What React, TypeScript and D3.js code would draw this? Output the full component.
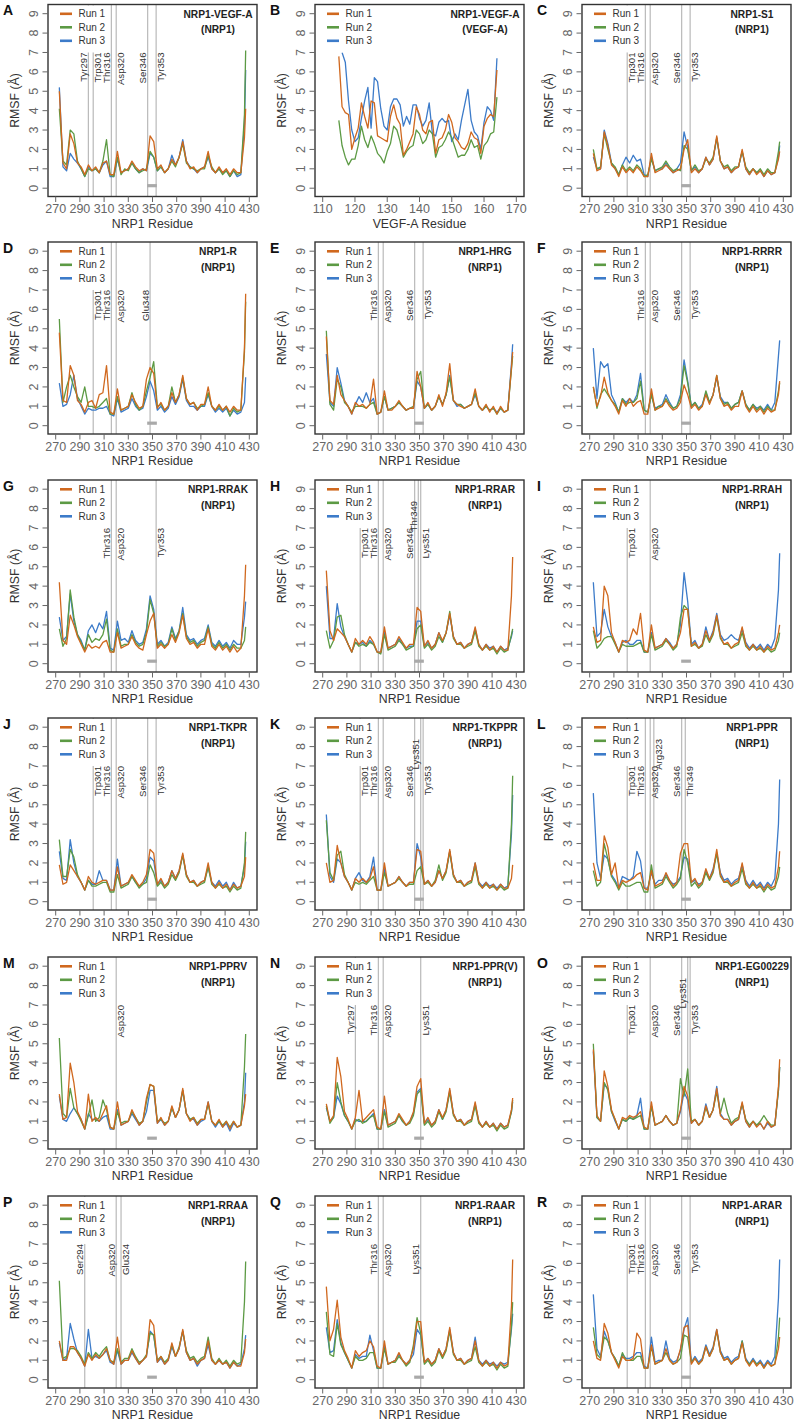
import React from "react";
import * as d3 from "d3";

// ---------- categories / ticks ----------
const NRP1_RESIDUES = [273,276,279,282,285,288,291,294,297,300,303,306,309,312,315,318,321,324,327,330,333,336,339,342,345,348,351,354,357,360,363,366,369,372,375,378,381,384,387,390,393,396,399,402,405,408,411,414,417,420,423,426,427];
const VEGF_RESIDUES = [115,116,117,118,119,120,121,122,123,124,125,126,127,128,129,130,131,132,133,134,135,136,137,138,139,140,141,142,143,144,145,146,147,148,149,150,151,152,153,154,155,156,157,158,159,160,161,162,163,164];
const NRP1_TICKS = [270,290,310,330,350,370,390,410,430];
const VEGF_TICKS = [110,120,130,140,150,160,170];
const Y_TICKS = [0,1,2,3,4,5,6,7,8,9];
const RUN_LABELS = ["Run 1","Run 2","Run 3"];
const PANEL_LETTERS = ["A","B","C","D","E","F","G","H","I","J","K","L","M","N","O","P","Q","R"];
const PANEL_TITLES = ["NRP1-VEGF-A","NRP1-VEGF-A","NRP1-S1","NRP1-R","NRP1-HRG","NRP1-RRRR","NRP1-RRAK","NRP1-RRAR","NRP1-RRAH","NRP1-TKPR","NRP1-TKPPR","NRP1-PPR","NRP1-PPRV","NRP1-PPR(V)","NRP1-EG00229","NRP1-RRAA","NRP1-RAAR","NRP1-ARAR"];
const PANEL_SUBTITLES = ["(NRP1)","(VEGF-A)","(NRP1)","(NRP1)","(NRP1)","(NRP1)","(NRP1)","(NRP1)","(NRP1)","(NRP1)","(NRP1)","(NRP1)","(NRP1)","(NRP1)","(NRP1)","(NRP1)","(NRP1)","(NRP1)"];

// ---------- residue markers (label, side of the line, raised) ----------
const MARKERS = [
  [["Tyr297","L"],["Trp301","R"],["Thr316","L"],["Asp320","R"],["Ser346","L"],["Tyr353","R"]],
  [],
  [["Trp301","R"],["Thr316","L"],["Asp320","R"],["Ser346","L"],["Tyr353","R"]],
  [["Trp301","R"],["Thr316","L"],["Asp320","R"],["Glu348","L"]],
  [["Thr316","L"],["Asp320","R"],["Ser346","L"],["Tyr353","R"]],
  [["Thr316","L"],["Asp320","R"],["Ser346","L"],["Tyr353","R"]],
  [["Thr316","L"],["Asp320","R"],["Tyr353","R"]],
  [["Trp301","R"],["Thr316","L"],["Asp320","R"],["Ser346","L"],["Thr349","L","up"],["Lys351","R"]],
  [["Trp301","R"],["Asp320","R"]],
  [["Trp301","R"],["Thr316","L"],["Asp320","R"],["Ser346","L"],["Tyr353","R"]],
  [["Trp301","R"],["Thr316","L"],["Asp320","R"],["Ser346","L"],["Lys351","L","up"],["Tyr353","R"]],
  [["Trp301","R"],["Thr316","L"],["Asp320","R"],["Arg323","R","up"],["Ser346","L"],["Thr349","R"]],
  [["Asp320","R"]],
  [["Tyr297","L"],["Thr316","L"],["Asp320","R"],["Lys351","R"]],
  [["Trp301","R"],["Asp320","R"],["Ser346","L"],["Lys351","L","up"],["Tyr353","R"]],
  [["Ser294","L"],["Asp320","L"],["Glu324","R"]],
  [["Thr316","L"],["Asp320","R"],["Lys351","L"]],
  [["Trp301","R"],["Thr316","L"],["Asp320","R"],["Ser346","L"],["Tyr353","R"]],
];

// ---------- RMSF values (Å) ----------
const A_RUN1 = [5.0,1.3,1.0,2.8,2.3,1.3,1.1,0.7,1.2,0.9, 1.1,0.8,1.3,1.4,0.7,0.7,1.9,0.8,0.9,1.0, 1.4,1.1,0.9,1.0,0.9,2.7,2.4,1.0,1.2,0.8, 1.0,1.5,1.2,1.6,2.4,1.4,1.0,1.1,0.8,1.0, 1.1,1.9,1.0,0.8,1.1,0.8,1.0,0.7,1.0,0.8, 0.8,2.6,4.1];
const A_RUN2 = [4.1,1.4,1.2,3.0,2.8,1.4,1.0,0.6,1.0,0.9, 1.0,0.8,1.4,2.5,0.7,0.6,1.6,0.7,1.0,0.9, 1.3,1.0,0.8,0.9,1.0,1.9,1.6,0.9,1.1,0.8, 1.0,1.4,1.1,1.6,2.3,1.3,1.1,1.0,0.9,1.0, 1.0,1.7,1.1,0.8,1.0,0.7,0.9,0.6,0.9,0.7, 0.8,3.8,7.1];
const A_RUN3 = [5.2,1.1,0.9,1.8,1.5,1.3,1.0,0.6,1.1,0.9, 1.0,0.8,1.2,1.4,0.6,0.6,1.5,0.8,0.9,1.0, 1.3,1.0,0.8,1.0,0.9,1.8,1.6,0.9,1.1,0.8, 1.0,1.7,1.2,1.6,2.5,1.4,1.1,1.0,0.8,1.0, 1.1,1.6,1.0,0.8,1.0,0.8,0.9,0.6,0.9,0.6, 0.7,3.3,6.1];

const B_RUN1 = [6.8,4.2,3.9,3.8,2.0,2.6,3.1,4.4,3.7,3.1, 4.5,4.4,2.7,2.6,2.5,2.4,3.7,4.3,3.6,3.3, 1.7,2.0,2.4,2.8,4.2,3.8,3.0,2.8,3.4,3.5, 1.8,2.5,2.6,3.0,3.8,3.4,2.6,2.4,2.1,2.0, 2.3,2.9,2.6,2.5,1.8,3.2,3.6,3.8,3.7,6.1];
const B_RUN2 = [3.5,2.2,1.6,1.2,1.5,1.5,2.2,3.2,2.5,2.1, 2.7,2.3,1.8,1.6,1.3,1.9,2.3,3.2,3.0,2.4, 1.6,1.9,2.1,2.2,3.0,2.8,2.3,2.5,3.0,2.8, 1.6,2.1,2.2,2.5,2.9,2.6,2.1,1.6,1.7,1.7, 2.0,2.5,2.1,2.2,1.5,2.2,2.4,2.8,2.9,4.7];
const B_RUN3 = [null,7.0,6.5,4.5,3.0,2.4,2.6,3.6,4.5,5.2, 3.1,5.7,5.5,4.1,3.2,3.0,4.2,4.6,4.6,4.3, 3.2,3.7,3.3,4.3,4.3,3.6,3.2,3.5,4.4,2.8, 2.7,3.4,3.6,3.4,3.5,2.4,2.8,2.5,3.5,4.3, 5.1,3.5,2.9,2.7,2.0,3.4,4.2,4.0,3.5,6.7];

const C_RUN1 = [1.8,0.9,1.0,2.9,2.2,1.2,1.0,0.6,1.1,0.8, 1.0,0.8,1.1,0.9,0.6,0.6,1.8,0.8,0.9,1.0, 1.2,1.0,0.8,0.9,1.0,2.0,2.5,0.8,1.0,0.8, 1.0,1.6,1.2,1.5,2.7,1.4,1.0,1.1,0.8,1.0, 1.1,2.0,1.0,0.7,1.0,0.7,0.9,0.6,0.9,0.7, 0.8,1.5,1.9];
const C_RUN2 = [2.0,1.0,1.1,2.8,2.0,1.3,1.1,0.7,1.2,0.9, 1.1,0.9,1.2,1.0,0.6,0.7,1.5,0.9,1.0,1.1, 1.4,1.1,0.9,1.0,0.9,2.2,2.0,0.9,1.2,0.9, 1.0,1.5,1.3,1.6,2.6,1.4,1.1,1.2,0.9,1.1, 1.1,1.9,1.1,0.8,1.0,0.8,1.0,0.7,1.0,0.8, 0.8,1.9,2.4];
const C_RUN3 = [1.6,1.0,1.0,3.0,2.3,1.3,1.0,0.7,1.2,1.6, 1.3,1.7,1.4,1.5,0.7,0.6,1.6,0.9,1.0,1.0, 1.3,1.0,0.8,1.0,1.3,2.9,2.1,0.9,1.1,0.8, 1.0,1.6,1.2,1.5,2.6,1.4,1.0,1.1,0.8,1.0, 1.1,1.9,1.0,0.7,1.0,0.8,0.9,0.6,0.9,0.7, 0.8,1.6,2.2];

const D_RUN1 = [4.8,1.3,1.2,3.1,2.6,1.3,1.1,0.7,1.2,1.3, 0.9,1.6,1.7,3.1,0.7,0.6,1.9,0.8,0.9,1.0, 1.6,1.2,0.9,1.0,2.4,3.0,2.7,0.9,1.2,0.8, 1.0,1.7,1.2,1.6,2.6,1.4,1.1,1.2,0.8,1.1, 1.1,2.0,1.0,0.8,1.1,0.8,1.0,0.7,1.0,0.8, 0.8,4.0,6.8];
const D_RUN2 = [5.5,1.2,2.0,2.6,2.0,1.5,1.2,2.0,1.0,1.0, 0.9,1.0,1.2,1.4,0.6,0.6,1.5,0.8,0.9,1.0, 1.7,1.1,0.8,1.0,1.8,2.5,3.3,1.0,1.1,0.8, 1.0,2.0,1.2,1.6,2.5,1.4,1.1,1.2,0.9,1.0, 1.1,1.7,1.0,0.8,1.0,0.8,1.0,0.5,0.9,0.7, 0.8,3.8,6.4];
const D_RUN3 = [2.2,1.0,1.1,1.6,2.6,1.4,1.0,0.6,0.9,0.8, 0.8,0.9,0.9,1.0,0.6,0.5,1.4,0.7,0.8,0.9, 1.4,1.0,0.8,0.9,1.5,2.3,1.8,0.8,1.0,0.7, 0.9,1.5,1.1,1.5,2.4,1.3,1.0,1.0,0.8,1.0, 1.0,1.6,1.0,0.7,0.9,0.7,0.9,0.5,0.8,0.6, 0.7,1.2,2.5];

const E_RUN1 = [4.6,1.3,1.1,2.6,1.6,1.3,1.0,0.6,1.2,1.0, 1.1,0.9,1.1,2.4,0.6,0.7,1.8,0.8,0.8,1.0, 1.3,1.0,0.8,0.9,0.9,2.8,2.0,0.9,1.2,0.8, 1.0,1.6,1.0,1.7,3.2,1.3,1.1,1.0,0.9,1.0, 1.1,1.9,1.0,0.8,1.1,0.7,1.0,0.6,1.0,0.7, 0.8,3.0,3.8];
const E_RUN2 = [4.9,1.1,0.8,2.4,2.0,1.2,1.0,0.7,1.0,1.0, 1.0,0.9,1.1,1.2,0.6,0.7,1.5,0.8,0.9,1.0, 1.2,1.0,0.8,0.9,1.0,2.4,2.8,0.9,1.1,0.8, 1.0,1.5,1.1,1.6,2.5,1.3,1.1,1.1,0.9,1.0, 1.1,1.7,1.0,0.8,1.0,0.8,0.9,0.6,0.9,0.7, 0.8,2.9,3.6];
const E_RUN3 = [3.7,1.2,1.0,3.0,2.2,1.3,1.0,0.6,1.1,1.5, 1.2,1.7,1.2,1.4,0.6,0.7,1.5,0.8,0.9,1.0, 1.2,1.0,0.8,0.9,0.9,2.3,2.0,0.9,1.1,0.8, 1.0,1.5,1.1,1.6,2.6,1.3,1.0,1.1,0.9,1.0, 1.1,1.6,1.0,0.8,1.0,0.8,0.9,0.7,0.9,0.7, 0.8,3.2,4.2];

const F_RUN1 = [2.0,1.0,1.5,2.5,1.7,1.3,1.0,0.6,1.3,1.0, 1.4,1.0,1.2,1.3,0.6,0.6,1.9,0.8,0.9,1.0, 1.3,1.0,0.8,0.9,1.2,2.1,1.6,0.9,1.1,0.8, 1.0,1.6,1.1,1.6,2.6,1.4,1.0,1.1,0.8,1.0, 1.0,1.8,1.0,0.7,1.0,0.7,0.9,0.6,0.9,0.7, 0.8,1.6,2.3];
const F_RUN2 = [2.0,0.9,1.6,1.9,1.6,1.3,1.1,0.7,1.4,1.1, 1.2,1.2,1.4,2.3,0.8,0.7,1.6,0.8,1.0,1.0, 1.4,1.1,0.9,1.0,1.4,3.1,2.2,1.0,1.2,0.9, 1.0,1.8,1.2,1.6,2.6,1.4,1.1,1.2,0.9,1.1, 1.2,1.8,1.1,0.8,1.1,0.8,1.0,0.7,1.0,0.8, 0.8,1.8,2.2];
const F_RUN3 = [4.0,1.4,3.3,3.0,3.2,1.6,1.2,0.7,1.4,1.2, 1.4,1.2,1.6,2.7,0.8,0.7,1.6,0.9,1.0,1.1, 1.6,1.2,0.9,1.0,1.6,3.4,2.3,1.0,1.2,0.9, 1.1,1.7,1.2,1.6,2.5,1.5,1.2,1.2,0.9,1.1, 1.2,1.8,1.1,0.8,1.1,0.9,1.0,0.8,1.1,0.8, 1.2,3.6,4.4];

const G_RUN1 = [4.2,1.2,1.0,2.5,2.0,1.4,1.0,0.6,1.0,0.8, 0.9,0.8,1.1,1.2,0.6,0.6,1.6,0.8,0.9,1.0, 1.4,1.0,0.8,0.7,1.5,2.2,2.6,0.8,1.0,0.8, 1.0,1.5,1.1,1.6,2.5,1.3,1.0,1.1,0.8,1.0, 1.0,1.8,0.9,0.7,1.0,0.7,0.9,0.6,0.9,0.6, 0.8,3.5,5.1];
const G_RUN2 = [1.8,0.9,1.3,3.8,2.4,1.5,1.1,0.7,1.5,1.1, 1.3,1.2,1.5,2.3,0.7,0.6,1.8,0.9,1.0,1.0, 1.5,1.1,0.9,1.0,1.6,3.3,2.6,0.9,1.1,0.9, 1.0,1.8,1.2,1.7,2.6,1.4,1.1,1.2,0.9,1.1, 1.2,1.9,1.0,0.8,1.1,0.8,1.0,0.7,1.0,0.8, 0.8,1.2,1.9];
const G_RUN3 = [2.4,1.2,1.4,3.6,2.2,1.5,1.2,0.7,1.7,2.0, 1.6,2.1,1.8,2.7,0.8,0.7,2.2,1.2,1.3,1.1, 1.7,1.2,1.0,1.1,1.8,3.5,2.8,1.0,1.2,0.9, 1.1,1.9,1.3,1.7,2.9,1.5,1.2,1.3,1.0,1.2, 1.3,2.0,1.1,0.9,1.2,0.9,1.1,0.8,1.2,1.0, 1.0,2.4,3.2];

const H_RUN1 = [4.8,1.7,1.2,1.8,1.6,1.4,1.0,0.6,1.3,1.0, 1.2,1.0,1.4,1.1,0.6,0.6,1.9,0.8,0.9,1.0, 1.4,1.1,0.8,1.0,1.0,2.9,2.7,0.9,1.2,0.8, 1.0,1.6,1.2,1.6,2.6,1.4,1.0,1.1,0.8,1.0, 1.1,1.9,1.0,0.7,1.0,0.7,0.9,0.6,0.9,0.7, 0.7,3.5,5.5];
const H_RUN2 = [1.7,0.8,1.2,2.4,2.5,1.5,1.0,0.6,1.1,0.9, 1.0,0.9,1.1,1.0,0.6,0.5,1.5,0.7,0.8,0.9, 1.2,1.0,0.7,0.8,0.9,1.8,2.0,0.8,1.0,0.7, 0.9,1.4,1.1,1.6,2.7,1.3,1.0,1.0,0.8,0.9, 1.0,1.7,0.9,0.7,0.9,0.7,0.8,0.5,0.8,0.6, 0.7,1.5,1.8];
const H_RUN3 = [4.0,1.3,1.3,3.1,1.9,1.4,1.0,0.6,1.1,1.0, 1.1,0.9,1.2,1.0,0.6,0.6,1.6,0.8,0.9,1.0, 1.3,1.0,0.8,0.9,0.9,2.2,2.2,0.9,1.1,0.8, 1.0,1.6,1.1,1.6,2.5,1.4,1.0,1.1,0.8,1.0, 1.1,1.8,1.0,0.7,1.0,0.8,0.9,0.6,0.9,0.7, 0.8,1.4,1.7];

const I_RUN1 = [1.9,1.1,1.2,4.0,3.5,1.6,1.1,0.6,1.2,1.1, 1.2,1.8,1.5,2.6,0.7,0.6,2.0,0.8,0.9,1.0, 1.3,1.0,0.8,1.0,1.6,2.8,2.8,0.9,1.1,0.8, 1.0,1.7,1.2,1.6,2.5,1.4,1.0,1.1,0.8,1.0, 1.1,1.9,1.0,0.7,1.0,0.7,0.9,0.6,0.9,0.7, 0.8,1.6,2.0];
const I_RUN2 = [1.7,0.8,1.0,1.3,1.4,1.4,1.0,0.6,1.0,0.9, 0.9,0.9,1.0,1.1,0.6,0.6,1.5,0.7,0.8,0.9, 1.2,1.0,0.7,0.9,2.4,3.0,2.8,0.9,1.0,0.8, 0.9,1.5,1.1,1.5,2.4,1.3,1.0,1.0,0.8,0.9, 1.0,1.6,0.9,0.7,0.9,0.7,0.8,0.6,0.8,0.6, 0.7,1.2,1.6];
const I_RUN3 = [4.2,1.4,1.6,2.8,1.9,1.4,1.1,0.6,1.1,1.2, 1.0,1.0,1.2,1.2,0.6,0.6,1.6,0.8,0.9,1.0, 1.3,1.1,0.8,1.0,2.0,4.7,3.2,1.0,1.2,0.8, 1.0,1.9,1.2,1.7,2.6,1.5,1.2,1.3,1.5,1.3, 1.2,1.8,1.1,0.8,1.0,0.8,1.0,0.7,1.0,0.8, 1.3,3.8,5.7];

const J_RUN1 = [1.9,0.9,1.0,1.9,1.6,1.3,1.0,0.6,1.3,1.0, 0.9,1.0,1.1,1.1,0.6,0.6,1.8,0.8,0.9,1.0, 1.4,1.1,0.8,1.0,1.4,2.7,2.5,0.9,1.2,0.8, 1.0,1.6,1.2,1.6,2.5,1.4,1.0,1.1,0.8,1.0, 1.1,2.0,1.0,0.7,1.0,0.7,0.9,0.6,0.9,0.7, 0.8,1.3,2.3];
const J_RUN2 = [3.2,1.3,1.3,2.7,2.3,1.4,1.0,0.6,1.1,0.8, 0.8,0.9,1.0,1.0,0.5,0.5,1.4,0.7,0.8,0.9, 1.3,1.0,0.7,0.9,1.0,1.9,1.5,0.8,1.0,0.7, 0.9,1.4,1.1,1.5,2.4,1.3,1.0,1.0,0.8,0.9, 1.0,1.8,0.9,0.7,0.9,0.7,0.8,0.5,0.8,0.6, 0.7,2.0,3.6];
const J_RUN3 = [2.6,1.2,1.1,3.2,2.0,1.3,1.0,0.6,1.1,0.9, 0.9,1.6,1.1,1.1,0.6,0.6,2.2,0.8,0.9,1.0, 1.3,1.0,0.8,0.9,1.2,2.3,2.1,0.9,1.1,0.8, 1.0,1.6,1.2,1.6,2.4,1.4,1.0,1.1,0.8,1.0, 1.1,1.8,1.0,0.8,1.1,0.8,1.0,0.6,1.0,0.7, 0.8,1.8,3.1];

const K_RUN1 = [2.0,1.0,1.1,2.9,2.0,1.3,1.0,0.6,1.2,1.0, 1.2,1.0,1.2,1.8,0.6,0.6,2.0,0.8,0.9,1.0, 1.3,1.0,0.8,1.0,1.0,2.7,2.6,0.9,1.1,0.8, 1.0,1.6,1.2,1.6,2.7,1.4,1.0,1.1,0.8,1.0, 1.1,2.0,1.0,0.7,1.0,0.7,0.9,0.6,0.9,0.7, 0.7,1.2,1.9];
const K_RUN2 = [4.2,1.5,1.1,2.4,2.6,1.4,1.0,0.6,1.0,0.9, 1.0,0.9,1.1,1.3,0.6,0.6,1.5,0.8,0.9,1.0, 1.2,1.0,0.8,0.9,0.9,1.6,1.8,0.9,1.0,0.8, 1.1,1.9,1.1,1.5,2.6,1.3,1.0,1.0,0.8,0.9, 1.0,1.8,0.9,0.7,0.9,0.7,0.8,0.6,0.8,0.6, 0.7,4.0,6.5];
const K_RUN3 = [4.5,1.3,1.0,2.2,2.0,1.3,1.0,0.6,1.2,1.5, 1.1,1.0,1.3,2.3,0.6,0.6,1.7,0.8,0.9,1.0, 1.3,1.0,0.8,1.0,1.0,3.0,2.3,0.9,1.1,0.8, 1.0,1.6,1.2,1.6,2.6,1.4,1.0,1.1,0.8,1.0, 1.1,2.0,1.0,0.8,1.0,0.8,0.9,0.7,0.9,0.7, 0.8,3.5,5.5];

const L_RUN1 = [2.0,1.1,1.1,3.4,2.8,1.4,2.0,0.7,1.1,1.0, 1.1,1.2,1.4,1.5,0.7,0.6,1.6,0.8,0.9,1.0, 1.5,1.1,0.8,1.0,2.5,3.0,3.0,1.0,1.2,0.8, 1.0,1.7,1.2,1.6,2.7,1.4,1.0,1.1,0.8,1.0, 1.1,2.0,1.0,0.7,1.0,0.7,0.9,0.6,0.9,0.7, 0.8,1.8,2.6];
const L_RUN2 = [1.6,0.8,1.0,3.0,2.2,1.3,1.0,0.6,1.0,0.8, 0.8,0.9,1.0,1.0,0.5,0.5,1.9,0.7,0.8,0.9, 1.3,1.0,0.7,0.9,1.2,2.7,2.0,0.8,1.0,0.7, 0.9,1.5,1.1,1.5,2.5,1.3,1.0,1.0,0.8,0.9, 1.0,1.7,0.9,0.7,0.9,0.7,0.8,0.5,0.8,0.6, 0.7,1.3,1.8];
const L_RUN3 = [5.6,2.0,1.2,2.4,2.2,1.4,1.1,0.7,1.3,1.2, 1.1,1.3,2.6,2.1,0.7,0.7,1.5,0.9,1.1,1.1, 1.4,1.1,0.9,1.0,1.3,2.3,2.2,1.0,1.1,0.9, 1.0,1.6,1.2,1.7,2.5,1.5,1.1,1.2,0.9,1.1, 1.2,1.9,1.1,0.8,1.1,0.8,1.0,0.7,1.0,0.8, 1.2,4.0,6.3];

const M_RUN1 = [2.4,1.1,1.2,4.0,3.0,1.5,1.1,0.6,2.4,1.0, 1.2,1.0,1.4,1.8,0.7,0.6,2.0,0.8,0.9,1.0, 1.6,1.2,0.8,1.0,2.2,2.9,2.8,0.9,1.2,0.8, 1.0,1.8,1.2,1.6,2.7,1.4,1.0,1.2,0.8,1.1, 1.1,2.0,1.0,0.8,1.1,0.7,1.0,0.6,1.0,0.7, 0.8,1.8,2.4];
const M_RUN2 = [5.3,1.4,1.2,2.7,1.7,1.4,1.0,0.6,1.3,2.1, 1.0,1.2,2.1,1.6,0.7,0.6,1.5,0.9,1.0,1.0, 1.5,1.2,0.9,1.0,2.0,2.9,2.8,1.0,1.1,0.9, 1.0,1.7,1.2,1.6,2.6,1.4,1.1,1.2,0.9,1.1, 1.1,1.9,1.0,0.8,1.0,0.8,1.0,0.7,1.0,0.7, 0.8,3.8,5.5];
const M_RUN3 = [2.3,1.1,1.0,1.4,1.7,1.4,1.1,0.6,1.4,1.1, 1.1,1.0,1.2,1.3,0.6,0.6,1.6,0.8,0.9,1.0, 1.4,1.1,0.8,1.0,1.5,2.6,2.6,0.9,1.1,0.8, 1.0,1.7,1.2,1.6,2.6,1.4,1.1,1.1,0.8,1.0, 1.1,2.0,1.0,0.7,1.0,0.7,0.9,0.5,0.9,0.7, 0.8,2.0,3.5];

const N_RUN1 = [1.9,1.0,1.3,4.3,3.3,1.5,1.1,0.6,1.2,2.6, 1.0,1.2,1.4,1.6,0.7,0.6,2.3,0.8,0.9,1.0, 1.4,1.1,0.8,1.0,1.5,2.8,3.2,0.9,1.2,0.8, 1.0,1.6,1.2,1.6,2.7,1.4,1.0,1.1,0.8,1.0, 1.1,2.0,1.0,0.7,1.0,0.7,0.9,0.6,0.9,0.7, 0.8,1.6,2.2];
const N_RUN2 = [1.8,0.9,1.2,3.0,2.0,1.3,1.0,0.6,1.0,1.1, 0.9,1.0,1.2,1.3,0.6,0.6,1.5,0.7,0.8,0.9, 1.3,1.0,0.8,0.9,1.3,2.4,2.6,0.8,1.0,0.7, 0.9,1.5,1.1,1.5,2.5,1.3,1.0,1.0,0.8,0.9, 1.0,1.8,0.9,0.7,0.9,0.7,0.8,0.5,0.8,0.6, 0.7,1.5,2.1];
const N_RUN3 = [1.7,1.0,1.2,2.3,1.9,1.3,1.0,0.6,1.1,1.0, 1.0,1.0,1.2,1.4,0.6,0.6,1.6,0.8,0.9,1.0, 1.3,1.0,0.8,1.0,1.4,2.5,2.7,0.9,1.1,0.8, 1.0,1.6,1.1,1.6,2.6,1.4,1.0,1.1,0.8,1.0, 1.1,1.9,1.0,0.7,1.0,0.7,0.9,0.6,0.9,0.7, 0.8,1.5,2.0];

const O_RUN1 = [4.7,1.3,1.0,3.6,2.8,1.6,1.1,0.6,1.2,1.1, 1.3,1.2,1.3,1.5,0.7,0.6,2.0,0.8,0.9,1.0, 1.3,1.0,0.8,0.9,1.6,2.8,2.3,0.9,1.1,0.8, 1.0,1.8,1.2,1.6,2.7,1.3,1.1,1.1,0.8,1.0, 1.1,2.0,1.0,0.7,1.0,0.7,0.9,0.6,1.0,0.7, 0.8,2.8,4.2];
const O_RUN2 = [5.0,1.2,1.0,3.0,2.6,1.5,1.1,0.6,1.1,1.0, 1.2,1.1,1.2,1.3,0.6,0.6,1.8,0.8,0.9,1.0, 1.3,1.0,0.8,0.9,3.2,2.3,3.7,1.0,1.1,0.8, 1.0,1.7,1.2,1.6,2.5,1.4,2.2,1.4,0.9,1.1, 1.2,1.9,1.1,0.8,1.0,0.8,1.0,1.3,1.0,0.8, 0.8,2.6,3.8];
const O_RUN3 = [4.6,1.2,1.0,2.9,2.7,1.5,1.0,0.6,1.1,1.0, 1.2,1.1,1.3,2.2,0.6,0.6,1.8,0.8,0.9,1.0, 1.3,1.0,0.8,0.9,1.5,2.5,2.1,0.9,1.1,0.8, 1.0,1.9,1.2,1.6,2.8,1.4,1.1,1.1,0.8,1.0, 1.1,1.9,1.0,0.7,1.0,0.8,0.9,0.6,0.9,0.7, 0.8,2.6,3.8];

const P_RUN1 = [2.0,1.0,1.0,1.7,1.7,1.4,1.1,0.7,1.3,1.0, 1.3,1.1,1.3,1.6,1.0,0.8,2.2,0.8,1.0,1.0, 1.5,1.1,0.8,1.0,1.2,3.1,2.8,0.9,1.2,0.8, 1.0,1.9,1.2,1.6,2.6,1.4,1.0,1.1,0.8,1.0, 1.1,2.0,1.0,0.8,1.0,0.8,0.9,0.6,0.9,0.7, 0.7,1.4,2.1];
const P_RUN2 = [5.1,1.1,1.2,1.6,1.6,1.5,1.2,0.8,1.4,1.1, 1.4,1.2,1.5,1.7,1.0,0.9,1.6,0.9,1.1,1.1, 1.6,1.2,0.9,1.0,1.3,2.4,2.3,1.0,1.2,0.9, 1.1,1.8,1.2,1.7,2.5,1.5,1.1,1.2,0.9,1.1, 1.2,2.2,1.1,0.8,1.1,0.8,1.0,0.7,1.0,0.8, 0.9,4.0,6.1];
const P_RUN3 = [1.9,1.0,1.1,2.9,2.1,1.4,1.1,0.7,2.6,1.1, 1.2,1.1,1.3,1.5,0.9,0.8,1.5,0.8,1.0,1.0, 1.4,1.1,0.8,1.0,1.2,2.5,2.3,0.9,1.1,0.8, 1.0,1.7,1.2,1.6,2.5,1.4,1.0,1.1,0.7,1.0, 1.1,1.8,1.0,0.8,1.0,0.8,0.9,0.6,0.9,0.7, 0.8,1.6,2.3];

const Q_RUN1 = [4.8,2.0,2.6,4.1,2.2,1.5,1.1,0.6,1.5,1.2, 1.4,1.5,2.0,1.7,0.7,0.6,2.0,0.8,0.9,1.0, 1.4,1.0,0.8,1.0,1.6,3.0,3.0,0.9,1.1,0.8, 1.0,1.6,1.2,1.6,2.7,1.4,1.0,1.1,0.8,1.0, 1.1,2.0,1.0,0.7,1.0,0.7,0.9,0.6,0.9,0.7, 0.8,3.8,6.2];
const Q_RUN2 = [3.5,1.3,1.2,2.9,1.8,1.4,1.0,0.6,1.2,1.0, 1.0,1.1,1.4,1.4,0.6,0.6,1.6,0.8,0.9,0.9, 1.2,1.0,0.7,0.9,1.8,3.2,2.4,0.8,1.0,0.7, 0.9,1.5,1.1,1.5,2.5,1.3,1.0,1.0,0.8,0.9, 1.0,1.7,0.9,0.7,0.9,0.7,0.8,0.5,0.8,0.6, 0.7,2.8,4.0];
const Q_RUN3 = [2.7,1.4,1.5,3.1,1.9,1.4,1.0,0.6,1.3,1.1, 1.2,1.2,2.3,1.5,0.6,0.6,1.7,0.8,0.9,1.0, 1.3,1.0,0.8,1.0,1.3,2.6,2.3,0.9,1.1,0.8, 1.0,1.6,1.2,1.6,2.6,1.4,1.0,1.1,0.8,1.0, 1.1,2.2,1.0,0.8,1.0,0.8,0.9,0.7,0.9,0.8, 0.9,2.6,3.4];

const R_RUN1 = [2.0,1.1,1.0,2.9,2.4,1.4,1.0,0.6,1.2,1.0, 1.0,1.1,2.4,2.1,0.6,0.6,1.8,0.8,0.9,1.0, 1.6,1.0,0.8,0.9,1.6,2.7,2.8,0.8,1.1,0.8, 1.0,1.7,1.2,1.6,2.6,1.4,1.0,1.1,0.8,1.0, 1.1,1.9,1.0,0.7,1.0,0.7,0.9,0.6,0.9,0.7, 0.8,1.6,2.2];
const R_RUN2 = [2.7,1.3,1.1,2.2,2.0,1.4,1.1,0.7,1.4,1.0, 1.0,1.0,1.2,1.2,0.6,0.6,1.7,0.8,0.9,1.0, 1.4,1.0,0.8,0.9,1.1,2.3,2.2,0.9,1.1,0.8, 1.0,1.7,1.2,1.6,2.5,1.4,1.0,1.1,0.8,1.0, 1.1,2.0,1.0,0.8,1.0,0.8,0.9,0.6,0.9,0.7, 0.8,2.2,3.2];
const R_RUN3 = [4.4,1.6,1.2,2.5,2.0,1.4,1.1,0.7,1.3,1.1, 1.1,1.2,1.4,1.4,0.7,0.6,2.2,0.9,1.0,1.0, 2.0,1.1,0.9,1.0,1.5,2.6,3.2,0.9,1.2,0.9, 1.1,1.8,1.3,1.7,2.6,1.5,1.1,1.2,0.9,1.1, 1.2,2.0,1.1,0.8,1.1,0.8,1.0,0.7,1.0,0.8, 1.2,4.2,6.2];

const PANEL_RUNS = [
  [A_RUN1, A_RUN2, A_RUN3], [B_RUN1, B_RUN2, B_RUN3], [C_RUN1, C_RUN2, C_RUN3],
  [D_RUN1, D_RUN2, D_RUN3], [E_RUN1, E_RUN2, E_RUN3], [F_RUN1, F_RUN2, F_RUN3],
  [G_RUN1, G_RUN2, G_RUN3], [H_RUN1, H_RUN2, H_RUN3], [I_RUN1, I_RUN2, I_RUN3],
  [J_RUN1, J_RUN2, J_RUN3], [K_RUN1, K_RUN2, K_RUN3], [L_RUN1, L_RUN2, L_RUN3],
  [M_RUN1, M_RUN2, M_RUN3], [N_RUN1, N_RUN2, N_RUN3], [O_RUN1, O_RUN2, O_RUN3],
  [P_RUN1, P_RUN2, P_RUN3], [Q_RUN1, Q_RUN2, Q_RUN3], [R_RUN1, R_RUN2, R_RUN3],
];

// ---------- layout & style ----------
const W = 796, H = 1421;
const COL_X = [48, 315, 582];
const ROW_Y = [4.5, 242, 480, 718, 957, 1196];
const BOX_W = 209, BOX_H = 192;
const PAD = 7.7;
const COLORS = ["#D0681E", "#5C9A44", "#3C7BC9"];
const FONT = "'Liberation Sans', Arial, Helvetica, sans-serif";

function Panel({ index }: { index: number }) {
  const col = index % 3, row = Math.floor(index / 3);
  const left = COL_X[col], top = ROW_Y[row];
  const right = left + BOX_W, bottom = top + BOX_H;
  const isVegf = index === 1;
  const residues = isVegf ? VEGF_RESIDUES : NRP1_RESIDUES;
  const ticks = isVegf ? VEGF_TICKS : NRP1_TICKS;
  const x = d3.scaleLinear().domain([ticks[0], ticks[ticks.length - 1]]).range([left + PAD, right - PAD]);
  const y = d3.scaleLinear().domain([0, 9]).range([top + 183.7, top + 9.2]);
  const line = d3.line<[number, number | null]>()
    .defined((d) => d[1] != null)
    .x((d) => x(d[0]))
    .y((d) => y(d[1] as number));
  const runs = PANEL_RUNS[index];
  const markers = MARKERS[index] as string[][];
  const legendBottom = y(7);
  const cx = (left + right) / 2;
  const cy = (top + bottom) / 2;

  return (
    <g>
      {markers.map((m, k) => {
        const res = +m[0].slice(3);
        return <line key={"ml" + k} x1={x(res)} x2={x(res)} y1={top} y2={bottom} stroke="#b9b9b9" strokeWidth={1.2} />;
      })}
      {!isVegf && (
        <line x1={x(345.6)} x2={x(353.6)} y1={y(0.13)} y2={y(0.13)} stroke="#a9a9a9" strokeWidth={3.2} />
      )}
      {[2, 1, 0].map((r) => {
        const pts: [number, number | null][] = residues.map((res, k) => [res, runs[r][k] ?? null]);
        return <path key={"run" + r} d={line(pts) || ""} fill="none" stroke={COLORS[r]} strokeWidth={1.3} strokeLinejoin="round" />;
      })}
      <rect x={left + 1} y={top + 1} width={57} height={legendBottom - top - 1} fill="#fff" />
      {RUN_LABELS.map((lab, r) => {
        const ly = top + 9.3 + r * 13.5;
        return (
          <g key={"lg" + r}>
            <line x1={left + 12} x2={left + 24} y1={ly} y2={ly} stroke={COLORS[r]} strokeWidth={2.6} />
            <text x={left + 30.5} y={ly} dy="0.35em" fontSize={10} fill="#333" fontFamily={FONT}>{lab}</text>
          </g>
        );
      })}
      {markers.map((m, k) => {
        const res = +m[0].slice(3);
        const tx = x(res) + (m[1] === "L" ? -4.8 : 4.8);
        const ty = y(m[2] === "up" ? 8.4 : 7);
        return (
          <text key={"mt" + k} x={tx} y={ty} dy="0.35em" transform={`rotate(-90, ${tx}, ${ty})`} textAnchor="end" fontSize={9.6} fill="#333" fontFamily={FONT}>{m[0]}</text>
        );
      })}
      <text x={right - 39} y={top + 13.2} textAnchor="middle" fontSize={10.2} fontWeight="bold" fill="#222" fontFamily={FONT}>{PANEL_TITLES[index]}</text>
      <text x={right - 39} y={top + 28.5} textAnchor="middle" fontSize={10.2} fontWeight="bold" fill="#222" fontFamily={FONT}>{PANEL_SUBTITLES[index]}</text>
      <rect x={left} y={top} width={BOX_W} height={BOX_H} fill="none" stroke="#333" strokeWidth={1.4} />
      {Y_TICKS.map((t) => (
        <g key={"yt" + t}>
          <line x1={left - 5.5} x2={left} y1={y(t)} y2={y(t)} stroke="#666" strokeWidth={1} />
          <text x={left - 14.5} y={y(t)} dy="0.36em" transform={`rotate(-90, ${left - 14.5}, ${y(t)})`} textAnchor="middle" fontSize={12.5} fill="#666" fontFamily={FONT}>{t}</text>
        </g>
      ))}
      <text x={left - 33} y={cy} dy="0.36em" transform={`rotate(-90, ${left - 33}, ${cy})`} textAnchor="middle" fontSize={12.3} fill="#333" fontFamily={FONT}>RMSF (Å)</text>
      {ticks.map((t) => (
        <g key={"xt" + t}>
          <line x1={x(t)} x2={x(t)} y1={bottom} y2={bottom + 5.5} stroke="#666" strokeWidth={1} />
          <text x={x(t)} y={bottom + 16.8} textAnchor="middle" fontSize={12.5} fill="#666" fontFamily={FONT}>{t}</text>
        </g>
      ))}
      <text x={cx} y={bottom + 31} textAnchor="middle" fontSize={12.3} fill="#333" fontFamily={FONT}>{isVegf ? "VEGF-A Residue" : "NRP1 Residue"}</text>
      <text x={left - 45} y={top + 10.5} fontSize={14} fontWeight="bold" fill="#111" fontFamily={FONT}>{PANEL_LETTERS[index]}</text>
    </g>
  );
}

export default function App() {
  return (
    <svg width={W} height={H} viewBox={`0 0 ${W} ${H}`} style={{ position: "absolute", left: 0, top: 0, background: "#fff" }}>
      <rect x={0} y={0} width={W} height={H} fill="#fff" />
      {PANEL_LETTERS.map((_, i) => <Panel key={i} index={i} />)}
    </svg>
  );
}
